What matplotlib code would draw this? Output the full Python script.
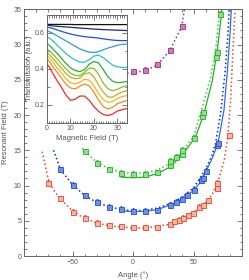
import matplotlib
matplotlib.use("Agg")
import matplotlib.pyplot as plt
from matplotlib.ticker import MultipleLocator

plt.rcParams['font.family'] = ['Liberation Sans', 'DejaVu Sans']

# ---- main panel: measured points (angle in deg, field in T) ----
red_ang = [-70, -60, -50, -40, -30, -20, -10, 0, 10, 20, 30, 34, 38, 41, 45, 49, 54, 58, 62, 69, 69, 79]
red_b = [10.4, 8.2, 6.3, 5.4, 4.7, 4.4, 4.25, 4.05, 4.06, 4.1, 4.5, 4.9, 5.15, 5.45, 5.8, 6.1, 7.0, 7.2, 7.9, 9.6, 10.4, 17.1]

blue_ang = [-60, -50, -40, -30, -20, -10, 0, 10, 20, 30, 35, 40, 44, 50, 56, 58, 60, 69, 70]
blue_b = [12.3, 10.1, 8.6, 7.7, 7.0, 6.7, 6.45, 6.4, 6.5, 7.3, 7.7, 8.1, 8.7, 9.4, 10.8, 11.1, 12.1, 15.7, 16.1]

green_ang = [-40, -30, -20, -10, 0, 10, 20, 30, 30, 35, 40, 40, 50, 57, 58, 68, 69, 72]
green_b = [14.9, 13.2, 12.3, 11.8, 11.7, 11.7, 11.9, 12.9, 13.5, 14.1, 14.5, 15.1, 16.8, 19.9, 20.4, 28.2, 28.9, 34.4]

purple_ang = [0, 10, 20, 30, 40]
purple_b = [26.2, 26.4, 27.2, 29.2, 32.6]

# ---- fit curves ----
red_fit_ang = [-75, -70, -65, -60, -50, -40, -30, -20, -10, 0, 10, 20, 30, 40, 50, 60, 65, 70, 75, 77.7, 80.4, 82.3, 84]
red_fit_b = [14.8, 10.9, 9.2, 8.1, 6.4, 5.3, 4.7, 4.3, 4.1, 4.0, 4.0, 4.2, 4.5, 5.2, 6.2, 7.6, 8.7, 10.5, 13.5, 16.4, 22.1, 29.2, 35.0]

blue_dot_ang = [-65.6, -60, -50, -40, -30, -20, -10, 0, 10, 20, 30, 40, 50, 60, 65, 68, 72.1, 75.7, 78.2, 79.2]
blue_dot_b = [15.0, 12.3, 10.1, 8.6, 7.6, 7.0, 6.6, 6.4, 6.5, 6.8, 7.4, 8.3, 9.7, 12.4, 14.3, 16.0, 20.2, 25.9, 31.5, 35.3]

blue_sol_ang = [-10, 0, 10, 20, 30, 40, 50, 55, 60, 65, 70, 74.9, 77.7, 79.9, 81]
blue_sol_b = [6.4, 6.3, 6.35, 6.6, 7.2, 8.1, 9.3, 10.4, 12.0, 13.8, 16.0, 20.7, 26.3, 31.5, 35.3]

green_dot_ang = [-42, -40, -30, -20, -10, 0, 10, 20, 30, 40, 50, 57, 63.9, 68, 71.6]
green_dot_b = [15.3, 14.9, 13.3, 12.4, 11.9, 11.7, 11.8, 12.2, 13.1, 14.7, 17.0, 21.1, 25.4, 29.2, 35.3]

green_sol_ang = [-10, 0, 10, 20, 30, 40, 51.5, 58.4, 65.3, 69.4, 73.5]
green_sol_b = [11.2, 11.1, 11.2, 11.7, 12.6, 14.2, 16.9, 20.2, 24.9, 29.2, 35.3]

purple_fit_ang = [-5, 0, 10, 20, 30, 40, 42.4]
purple_fit_b = [25.9, 26.0, 26.3, 27.1, 29.1, 32.5, 35.1]

# ---- inset: transmission spectra ----
field = [0, 1, 2, 4, 6, 8, 10, 12, 14, 16, 18, 20, 22, 24, 26, 28, 30, 32, 34]
spec_black = [0.647, 0.646, 0.646, 0.646, 0.646, 0.646, 0.646, 0.645, 0.645, 0.645, 0.645, 0.645, 0.645, 0.645, 0.645, 0.645, 0.645, 0.645, 0.645]
spec_navy = [0.641, 0.64, 0.638, 0.636, 0.634, 0.632, 0.63, 0.628, 0.626, 0.624, 0.622, 0.62, 0.619, 0.617, 0.616, 0.615, 0.614, 0.613, 0.612]
spec_blue = [0.63, 0.628, 0.625, 0.617, 0.608, 0.6, 0.593, 0.587, 0.582, 0.578, 0.575, 0.573, 0.57, 0.566, 0.562, 0.559, 0.557, 0.556, 0.556]
spec_sky = [0.612, 0.605, 0.6, 0.585, 0.57, 0.555, 0.54, 0.525, 0.51, 0.5, 0.492, 0.49, 0.495, 0.505, 0.515, 0.522, 0.53, 0.535, 0.537]
spec_cyan = [0.578, 0.57, 0.56, 0.535, 0.51, 0.485, 0.465, 0.448, 0.437, 0.436, 0.45, 0.47, 0.475, 0.462, 0.44, 0.42, 0.41, 0.407, 0.407]
spec_green = [0.54, 0.53, 0.517, 0.49, 0.46, 0.43, 0.405, 0.39, 0.384, 0.395, 0.425, 0.44, 0.432, 0.395, 0.355, 0.33, 0.322, 0.325, 0.328]
spec_lime = [0.51, 0.5, 0.487, 0.46, 0.43, 0.4, 0.375, 0.363, 0.361, 0.38, 0.403, 0.402, 0.37, 0.32, 0.288, 0.278, 0.285, 0.298, 0.305]
spec_olive = [0.49, 0.478, 0.465, 0.435, 0.405, 0.375, 0.352, 0.344, 0.348, 0.37, 0.378, 0.355, 0.31, 0.27, 0.243, 0.242, 0.258, 0.27, 0.278]
spec_yellow = [0.472, 0.46, 0.445, 0.41, 0.38, 0.345, 0.322, 0.315, 0.325, 0.342, 0.337, 0.305, 0.262, 0.228, 0.213, 0.218, 0.235, 0.245, 0.25]
spec_orange = [0.455, 0.44, 0.42, 0.385, 0.35, 0.315, 0.293, 0.287, 0.303, 0.315, 0.305, 0.27, 0.225, 0.19, 0.176, 0.185, 0.205, 0.215, 0.222]
spec_red = [0.425, 0.41, 0.385, 0.34, 0.3, 0.255, 0.224, 0.23, 0.248, 0.248, 0.225, 0.19, 0.163, 0.145, 0.14, 0.148, 0.165, 0.172, 0.178]

spectra = [spec_black, spec_navy, spec_blue, spec_sky, spec_cyan, spec_green,
           spec_lime, spec_olive, spec_yellow, spec_orange, spec_red]
spec_colors = ['#111111', '#1b2a7a', '#1f55c0', '#2a9fd8', '#27c2c8', '#28b030',
               '#86bf2a', '#b8b020', '#f0b820', '#f08a20', '#e83020']

TXT = '#555555'
RED, BLUE, GREEN, PURPLE = '#e8452c', '#1f4fd0', '#23b023', '#a3288f'


def points(ax, x, y, c, fc):
    ax.errorbar(x, y, xerr=1.3, yerr=0.35, fmt='s', ms=3.6, mfc=fc, mec=c,
                mew=0.6, ecolor=c, elinewidth=0.6, capsize=1.0, capthick=0.6,
                zorder=3)


def style(ax, size=5):
    for s in ax.spines.values():
        s.set_color('#666666')
        s.set_linewidth(0.7)
    ax.tick_params(which='both', direction='in', top=True, right=True,
                   colors='#666666', labelcolor=TXT, labelsize=size, width=0.6)
    ax.tick_params(which='major', length=3.5, pad=2)
    ax.tick_params(which='minor', length=1.8)


fig = plt.figure(figsize=(2.49, 2.80), dpi=100)
ax = fig.add_axes([0.0964, 0.0857, 0.8767, 0.8811])

ax.plot(red_fit_ang, red_fit_b, ':', color=RED, lw=1.1, zorder=2)
ax.plot(blue_dot_ang, blue_dot_b, ':', color='#1a2f9a', lw=1.1, zorder=2)
ax.plot(blue_sol_ang, blue_sol_b, '-', color='#2f6ee0', lw=0.9, zorder=2)
ax.plot(green_dot_ang, green_dot_b, ':', color='#3cc43c', lw=1.1, zorder=2)
ax.plot(green_sol_ang, green_sol_b, '-', color=GREEN, lw=0.9, zorder=2)
ax.plot(purple_fit_ang, purple_fit_b, ':', color=PURPLE, lw=1.1, zorder=2)

points(ax, red_ang, red_b, RED, '#f6b5a5')
points(ax, blue_ang, blue_b, BLUE, '#6f8fe8')
points(ax, green_ang, green_b, GREEN, '#8be08b')
points(ax, purple_ang, purple_b, PURPLE, '#c87fbe')

ax.set_xlim(-90, 90)
ax.set_ylim(0, 35)
ax.xaxis.set_major_locator(MultipleLocator(50))
ax.xaxis.set_minor_locator(MultipleLocator(10))
ax.yaxis.set_major_locator(MultipleLocator(5))
ax.yaxis.set_minor_locator(MultipleLocator(1))
style(ax)
ax.set_xlabel('Angle (°)', fontsize=5.5, color=TXT, labelpad=4)
ax.set_ylabel('Resonant Field (T)', fontsize=5.5, color=TXT, labelpad=3)

# inset
ins = fig.add_axes([0.1888, 0.5618, 0.32, 0.3857])
ins.set_facecolor('white')
for t, c in zip(spectra, spec_colors):
    ins.plot(field, t, color=c, lw=0.9)
ins.set_xlim(0, 34)
ins.set_ylim(0.1, 0.7)
ins.xaxis.set_major_locator(MultipleLocator(10))
ins.xaxis.set_minor_locator(MultipleLocator(1))
ins.yaxis.set_major_locator(MultipleLocator(0.2))
ins.yaxis.set_minor_locator(MultipleLocator(0.1))
style(ins)
ins.set_yticks([0.2, 0.4, 0.6])
ins.set_yticklabels(['0.2', '0.4', '0.6'])
ins.set_xlabel('Magnetic Field (T)', fontsize=5.5, color=TXT, labelpad=2)
ins.set_ylabel('Transmission (a.u.)', fontsize=5.5, color=TXT, labelpad=1)

fig.savefig('out.png', dpi=100)
